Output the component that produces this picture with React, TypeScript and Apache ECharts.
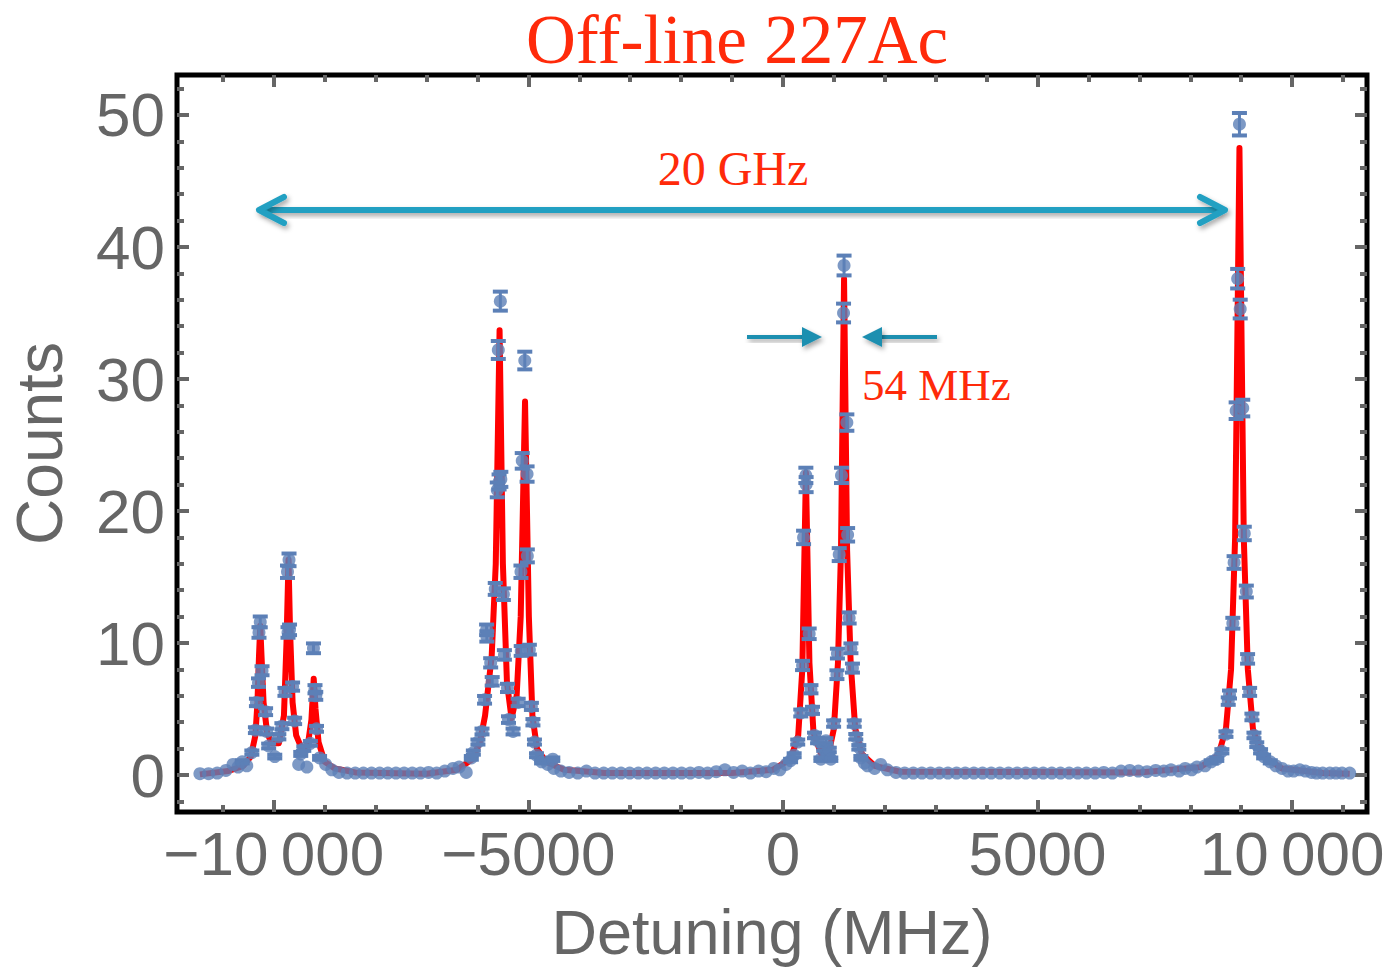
import React, { useEffect, useRef } from "react";
import * as echarts from "echarts";

// ---- axis ranges and ticks ----
const X_MIN = -11900;
const X_MAX = 11470;
const Y_MIN = -2.8;
const Y_MAX = 53.03;

const xMajorTicks = [-10000, -5000, 0, 5000, 10000];
const xTickLabels = ["\u221210\u2009000", "\u22125000", "0", "5000", "10\u2009000"];
const xMinorTicks = [-11000, -9000, -8000, -7000, -6000, -4000, -3000, -2000, -1000, 1000, 2000, 3000, 4000, 6000, 7000, 8000, 9000, 11000];
const yMajorTicks = [0, 10, 20, 30, 40, 50];
const yTickLabels = ["0", "10", "20", "30", "40", "50"];
const yMinorTicks = [-2, 2, 4, 6, 8, 12, 14, 16, 18, 22, 24, 26, 28, 32, 34, 36, 38, 42, 44, 46, 48, 52];

// ---- measured points: detuning (MHz), counts, error ----
const detuning = [
  -11450, -11280, -11110, -10940, -10800, -10700, -10620, -10530, -10430, -10360,
  -10340, -10300, -10290, -10265, -10230, -10160, -10140, -10100, -9980, -9900,
  -9840, -9780, -9730, -9720, -9700, -9690, -9630, -9590, -9510, -9470,
  -9410, -9350, -9280, -9220, -9190, -9175, -9160, -9100, -8980, -8860,
  -8720, -8560, -8400, -8240, -8080, -7920, -7760, -7600, -7440, -7280,
  -7120, -6960, -6800, -6640, -6480, -6360, -6220, -6120, -6080, -5990,
  -5910, -5860, -5820, -5815, -5740, -5710, -5650, -5610, -5590, -5575,
  -5550, -5540, -5490, -5470, -5410, -5390, -5300, -5200, -5145, -5140,
  -5120, -5070, -5025, -5020, -4980, -4940, -4910, -4880, -4840, -4740,
  -4620, -4520, -4500, -4360, -4200, -4030, -3860, -3690, -3520, -3350,
  -3180, -3010, -2840, -2670, -2500, -2330, -2160, -1990, -1820, -1650,
  -1480, -1310, -1140, -970, -800, -640, -480, -330, -180, -60,
  60, 150, 220, 290, 350, 385, 405, 450, 455, 515,
  550, 580, 620, 680, 745, 800, 845, 880, 910, 940,
  995, 1060, 1070, 1105, 1150, 1190, 1200, 1255, 1270, 1300,
  1335, 1365, 1400, 1430, 1490, 1530, 1600, 1660, 1800, 1920,
  2050, 2220, 2390, 2560, 2730, 2900, 3070, 3240, 3410, 3580,
  3750, 3920, 4090, 4260, 4430, 4600, 4770, 4940, 5110, 5280,
  5450, 5620, 5790, 5960, 6130, 6300, 6470, 6640, 6810, 6980,
  7150, 7320, 7480, 7620, 7780, 7900, 8030, 8130, 8290, 8410,
  8520, 8620, 8700, 8745, 8770, 8835, 8860, 8900, 8930, 8965,
  8980, 9030, 9060, 9100, 9125, 9165, 9210, 9250, 9305, 9380,
  9440, 9570, 9680, 9800, 9920, 10030, 10150, 10260, 10380, 10480,
  10600, 10740, 10860, 10980, 11130,
];
const counts = [
  0.1, 0.1, 0.15, 0.35, 0.8, 0.6, 1.0, 0.7, 1.7, 3.4,
  5.5, 7.0, 10.8, 11.6, 7.9, 4.8, 3.3, 2.2, 1.4, 2.9,
  3.7, 6.3, 15.4, 10.8, 16.3, 11.0, 6.7, 4.1, 0.8, 1.6,
  2.0, 0.6, 2.4, 9.6, 6.5, 6.0, 3.5, 1.3, 0.8, 0.4,
  0.2, 0.15, 0.15, 0.15, 0.15, 0.15, 0.15, 0.15, 0.15, 0.15,
  0.15, 0.2, 0.15, 0.3, 0.5, 0.6, 0.2, 1.3, 1.7, 2.5,
  3.3, 5.7, 11.0, 10.5, 8.5, 7.1, 14.1, 21.6, 32.2, 22.2,
  35.9, 22.4, 13.7, 9.1, 6.6, 4.2, 3.3, 5.5, 15.4, 9.4,
  23.8, 31.4, 22.8, 16.6, 9.5, 5.2, 4.0, 2.5, 1.5, 1.0,
  0.8, 1.2, 0.5, 0.3, 0.2, 0.15, 0.3, 0.15, 0.15, 0.15,
  0.15, 0.15, 0.15, 0.15, 0.15, 0.15, 0.15, 0.15, 0.15, 0.2,
  0.15, 0.25, 0.4, 0.2, 0.3, 0.15, 0.3, 0.25, 0.5, 0.4,
  0.8, 1.1, 1.5, 2.5, 4.7, 8.3, 18.0, 22.7, 22.0, 10.7,
  6.5, 4.9, 3.0, 2.6, 1.2, 2.0, 2.6, 1.5, 1.9, 1.2,
  3.9, 7.6, 9.2, 16.7, 22.7, 35.0, 38.6, 26.7, 18.2, 11.9,
  9.6, 8.1, 3.9, 2.9, 2.1, 1.3, 0.9, 0.7, 0.5, 0.8,
  0.4, 0.2, 0.15, 0.15, 0.15, 0.15, 0.15, 0.15, 0.15, 0.15,
  0.15, 0.15, 0.15, 0.15, 0.15, 0.15, 0.15, 0.15, 0.15, 0.15,
  0.15, 0.15, 0.15, 0.15, 0.15, 0.2, 0.15, 0.3, 0.35, 0.3,
  0.25, 0.35, 0.3, 0.4, 0.3, 0.5, 0.4, 0.6, 0.7, 1.0,
  1.2, 1.8, 3.1, 5.6, 6.1, 11.5, 16.1, 27.6, 37.6, 49.3,
  35.3, 27.8, 18.3, 13.9, 8.8, 6.3, 4.4, 3.0, 2.3, 1.8,
  1.4, 1.0, 0.7, 0.5, 0.3, 0.3, 0.4, 0.3, 0.2, 0.15,
  0.15, 0.15, 0.15, 0.15, 0.15,
];
const countErrors = [
  0, 0, 0, 0, 0, 0, 0.12, 0, 0.16, 0.22,
  0.28, 0.32, 0.4, 0.41, 0.34, 0.26, 0.22, 0.18, 0.14, 0.2,
  0.23, 0.3, 0.47, 0.4, 0.48, 0.4, 0.31, 0.24, 0, 0.15,
  0.17, 0, 0.18, 0.37, 0.31, 0.3, 0.22, 0.14, 0, 0,
  0, 0, 0, 0, 0, 0, 0, 0, 0, 0,
  0, 0, 0, 0, 0, 0, 0, 0.14, 0.16, 0.19,
  0.22, 0.29, 0.4, 0.39, 0.35, 0.32, 0.45, 0.56, 0.68, 0.57,
  0.72, 0.57, 0.44, 0.36, 0.31, 0.25, 0.22, 0.28, 0.47, 0.37,
  0.59, 0.67, 0.58, 0.49, 0.37, 0.27, 0.24, 0.19, 0.15, 0.12,
  0, 0.13, 0, 0, 0, 0, 0, 0, 0, 0,
  0, 0, 0, 0, 0, 0, 0, 0, 0, 0,
  0, 0, 0, 0, 0, 0, 0, 0, 0, 0,
  0, 0.13, 0.15, 0.19, 0.26, 0.35, 0.51, 0.58, 0.57, 0.4,
  0.31, 0.27, 0.21, 0.19, 0.13, 0.17, 0.19, 0.15, 0.17, 0.13,
  0.24, 0.33, 0.37, 0.49, 0.58, 0.71, 0.75, 0.62, 0.51, 0.42,
  0.37, 0.34, 0.24, 0.21, 0.17, 0.14, 0, 0, 0, 0,
  0, 0, 0, 0, 0, 0, 0, 0, 0, 0,
  0, 0, 0, 0, 0, 0, 0, 0, 0, 0,
  0, 0, 0, 0, 0, 0, 0, 0, 0, 0,
  0, 0, 0, 0, 0, 0, 0, 0, 0, 0.12,
  0.13, 0.16, 0.21, 0.28, 0.3, 0.41, 0.48, 0.63, 0.74, 0.85,
  0.71, 0.63, 0.51, 0.45, 0.36, 0.3, 0.25, 0.21, 0.18, 0.16,
  0.14, 0.12, 0, 0, 0, 0, 0, 0, 0, 0,
  0, 0, 0, 0, 0,
];

// ---- fitted curve ----
const fitDetuning = [
  -11450, -10900, -10600, -10450, -10360, -10320, -10290, -10265, -10240, -10200,
  -10130, -10040, -9900, -9800, -9750, -9710, -9680, -9630, -9560, -9450,
  -9330, -9260, -9215, -9180, -9120, -9000, -8800, -8400, -7000, -6400,
  -6100, -5950, -5850, -5720, -5640, -5565, -5500, -5420, -5330, -5230,
  -5150, -5065, -4990, -4920, -4830, -4650, -4300, -3500, -1000, -200,
  150, 300, 380, 451, 520, 600, 750, 900, 1000, 1080,
  1140, 1200, 1260, 1330, 1420, 1550, 1800, 2300, 7000, 8200,
  8550, 8700, 8800, 8880, 8965, 9050, 9130, 9230, 9400, 9800,
  10600, 11130,
];
const fitCounts = [
  0.05, 0.3, 0.7, 1.4, 3.0, 5.5, 9.0, 11.3, 9.0, 5.5,
  3.2, 2.4, 2.4, 4.5, 10.0, 16.3, 11.0, 5.5, 3.0, 2.0,
  2.3, 4.2, 7.3, 5.0, 2.5, 1.0, 0.5, 0.2, 0.1, 0.4,
  1.2, 2.5, 4.5, 9.0, 16.0, 33.7, 16.0, 7.0, 4.3, 6.0,
  12.0, 28.3, 12.0, 4.5, 2.0, 1.0, 0.4, 0.15, 0.15, 0.4,
  1.2, 3.0, 8.0, 22.9, 8.5, 3.2, 1.6, 1.7, 3.5, 8.5,
  17.0, 37.6, 17.0, 8.5, 3.5, 1.6, 0.7, 0.25, 0.2, 0.6,
  1.5, 3.5, 8.0, 18.0, 47.5, 18.0, 8.0, 3.5, 1.5, 0.5,
  0.15, 0.1,
];

const BLUE = "#5c80b7";
const RED_LINE = "#ff0000";
const RED_TEXT = "#ff2a0a";
const TEAL = "#22a0c2";
const TEAL_DARK = "#1f8fb0";
const GREY = "#666666";
const SANS = "'Liberation Sans', Arial, Helvetica, sans-serif";
const SERIF = "'Liberation Serif', 'Times New Roman', serif";

export default function App() {
  const ref = useRef<HTMLDivElement>(null);

  useEffect(() => {
    if (!ref.current) return;
    const chart = echarts.init(ref.current, null, { renderer: "svg" });

    const points = detuning.map((x, i) => [x, counts[i], countErrors[i]]);
    const fit = fitDetuning.map((x, i) => [x, fitCounts[i]]);

    const majorTick = (vals: number[]) => ({
      show: true,
      inside: true,
      length: 12,
      customValues: vals,
      lineStyle: { color: GREY, width: 4 },
    });
    const minorTick = (vals: number[]) => ({
      show: true,
      inside: true,
      length: 7,
      customValues: vals,
      lineStyle: { color: GREY, width: 4 },
    });
    const baseX = {
      type: "value",
      gridIndex: 0,
      min: X_MIN,
      max: X_MAX,
      axisLine: { show: false, onZero: false },
      splitLine: { show: false },
    };
    const baseY = {
      type: "value",
      gridIndex: 0,
      min: Y_MIN,
      max: Y_MAX,
      axisLine: { show: false, onZero: false },
      splitLine: { show: false },
    };
    const shadow = { shadowBlur: 5, shadowColor: "rgba(0,0,0,0.35)", shadowOffsetX: 2, shadowOffsetY: 3 };

    const option: any = {
      animation: false,
      backgroundColor: "#ffffff",
      grid: {
        left: 175,
        top: 75,
        width: 1192,
        height: 738,
        show: true,
        borderColor: "#000000",
        borderWidth: 5,
        backgroundColor: "transparent",
      },
      xAxis: [
        {
          ...baseX,
          position: "bottom",
          axisTick: majorTick(xMajorTicks),
          axisLabel: {
            show: true,
            customValues: xMajorTicks,
            margin: 10,
            color: GREY,
            fontSize: 62,
            fontFamily: SANS,
            formatter: (v: number) => {
              const i = xMajorTicks.indexOf(v);
              return i >= 0 ? xTickLabels[i] : "";
            },
          },
          name: "Detuning (MHz)",
          nameLocation: "middle",
          nameGap: 88,
          nameTextStyle: { color: GREY, fontSize: 63, fontFamily: SANS },
        },
        { ...baseX, position: "bottom", axisTick: minorTick(xMinorTicks), axisLabel: { show: false } },
        { ...baseX, position: "top", axisTick: majorTick(xMajorTicks), axisLabel: { show: false } },
        { ...baseX, position: "top", axisTick: minorTick(xMinorTicks), axisLabel: { show: false } },
      ],
      yAxis: [
        {
          ...baseY,
          position: "left",
          axisTick: majorTick(yMajorTicks),
          axisLabel: {
            show: true,
            customValues: yMajorTicks,
            margin: 12,
            color: GREY,
            fontSize: 62,
            fontFamily: SANS,
            formatter: (v: number) => {
              const i = yMajorTicks.indexOf(v);
              return i >= 0 ? yTickLabels[i] : "";
            },
          },
          name: "Counts",
          nameLocation: "middle",
          nameGap: 105,
          nameTextStyle: { color: GREY, fontSize: 64, fontFamily: SANS },
        },
        { ...baseY, position: "left", axisTick: minorTick(yMinorTicks), axisLabel: { show: false } },
        { ...baseY, position: "right", axisTick: majorTick(yMajorTicks), axisLabel: { show: false } },
        { ...baseY, position: "right", axisTick: minorTick(yMinorTicks), axisLabel: { show: false } },
      ],
      series: [
        {
          type: "line",
          name: "fit",
          xAxisIndex: 0,
          yAxisIndex: 0,
          data: fit,
          showSymbol: false,
          symbol: "none",
          lineStyle: { color: RED_LINE, width: 6, join: "round" },
          z: 2,
        },
        {
          type: "custom",
          name: "errors",
          xAxisIndex: 0,
          yAxisIndex: 0,
          data: points,
          encode: { x: 0, y: 1 },
          z: 3,
          renderItem: (params: any, api: any) => {
            const x = api.value(0);
            const y = api.value(1);
            const e = api.value(2);
            if (!e || e <= 0) return { type: "group", children: [] };
            const top = api.coord([x, y + e]);
            const bot = api.coord([x, y - e]);
            const hw = 7.5;
            return {
              type: "group",
              children: [
                { type: "line", shape: { x1: top[0], y1: top[1], x2: bot[0], y2: bot[1] }, style: { stroke: BLUE, lineWidth: 3 } },
                { type: "line", shape: { x1: top[0] - hw, y1: top[1], x2: top[0] + hw, y2: top[1] }, style: { stroke: BLUE, lineWidth: 4 } },
                { type: "line", shape: { x1: bot[0] - hw, y1: bot[1], x2: bot[0] + hw, y2: bot[1] }, style: { stroke: BLUE, lineWidth: 4 } },
              ],
            };
          },
        },
        {
          type: "scatter",
          name: "data",
          xAxisIndex: 0,
          yAxisIndex: 0,
          data: points.map((p) => [p[0], p[1]]),
          symbol: "circle",
          symbolSize: 13,
          itemStyle: { color: BLUE },
          z: 4,
        },
      ],
      graphic: [
        {
          type: "text",
          x: 737,
          y: 40,
          z: 100,
          style: {
            text: "Off-line 227Ac",
            fill: RED_TEXT,
            fontSize: 69,
            fontFamily: SERIF,
            align: "center",
            verticalAlign: "middle",
            textAlign: "center",
            textVerticalAlign: "middle",
          },
        },
        {
          type: "text",
          x: 733,
          y: 168,
          z: 100,
          style: {
            text: "20 GHz",
            fill: RED_TEXT,
            fontSize: 48,
            fontFamily: SERIF,
            align: "center",
            verticalAlign: "middle",
            textAlign: "center",
            textVerticalAlign: "middle",
          },
        },
        {
          type: "text",
          x: 862,
          y: 385,
          z: 100,
          style: {
            text: "54 MHz",
            fill: RED_TEXT,
            fontSize: 45,
            fontFamily: SERIF,
            align: "left",
            verticalAlign: "middle",
            textAlign: "left",
            textVerticalAlign: "middle",
          },
        },
        {
          type: "group",
          z: 100,
          children: [
            {
              type: "rect",
              shape: { x: 262, y: 207, width: 958, height: 6 },
              style: { fill: TEAL, ...shadow },
            },
            {
              type: "polyline",
              shape: { points: [[284, 197], [259, 210], [284, 223]] },
              style: { stroke: TEAL, fill: "none", lineWidth: 6, lineCap: "round", lineJoin: "round", ...shadow },
            },
            {
              type: "polyline",
              shape: { points: [[1200, 197], [1225, 210], [1200, 223]] },
              style: { stroke: TEAL, fill: "none", lineWidth: 6, lineCap: "round", lineJoin: "round", ...shadow },
            },
            {
              type: "rect",
              shape: { x: 747, y: 335, width: 58, height: 4 },
              style: { fill: TEAL_DARK, ...shadow },
            },
            {
              type: "polygon",
              shape: { points: [[802, 327], [822, 337], [802, 347]] },
              style: { fill: TEAL_DARK, ...shadow },
            },
            {
              type: "rect",
              shape: { x: 879, y: 335, width: 58, height: 4 },
              style: { fill: TEAL_DARK, ...shadow },
            },
            {
              type: "polygon",
              shape: { points: [[862, 337], [882, 327], [882, 347]] },
              style: { fill: TEAL_DARK, ...shadow },
            },
          ],
        },
      ],
    };

    chart.setOption(option);
    return () => {
      chart.dispose();
    };
  }, []);

  return (
    <div
      ref={ref}
      style={{ position: "absolute", left: 0, top: 0, width: 1390, height: 968, background: "#ffffff" }}
    />
  );
}
